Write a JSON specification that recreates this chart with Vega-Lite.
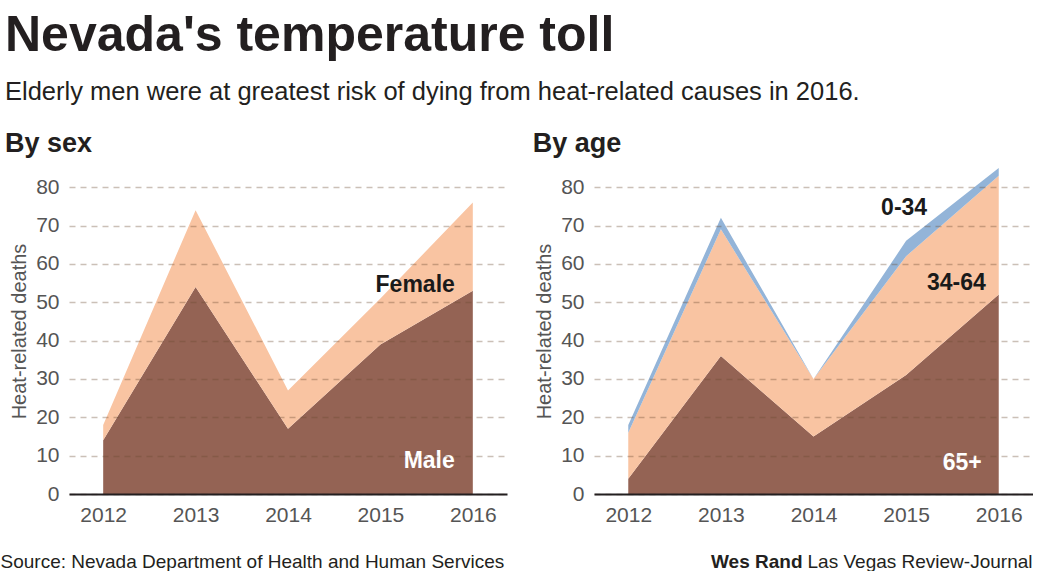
{
  "$schema": "https://vega.github.io/schema/vega-lite/v6.json",
  "background": "white",
  "padding": {"left": 0, "top": 11, "right": 0, "bottom": 0},
  "title": {
    "text": "Nevada's temperature toll",
    "subtitle": "Elderly men were at greatest risk of dying from heat-related causes in 2016.",
    "anchor": "start",
    "frame": "bounds",
    "dx": 5,
    "font": "Liberation Sans",
    "fontSize": 50,
    "fontWeight": "bold",
    "color": "#231f20",
    "subtitleFont": "Liberation Sans",
    "subtitleFontSize": 25.5,
    "subtitleColor": "#231f20",
    "subtitlePadding": 19,
    "offset": 24.5
  },
  "resolve": {"scale": {"color": "independent"}},
  "datasets": {
    "sex": [
      {"year": "2012", "group": "Male", "deaths": 14},
      {"year": "2013", "group": "Male", "deaths": 54},
      {"year": "2014", "group": "Male", "deaths": 17},
      {"year": "2015", "group": "Male", "deaths": 39},
      {"year": "2016", "group": "Male", "deaths": 53},
      {"year": "2012", "group": "Female", "deaths": 4},
      {"year": "2013", "group": "Female", "deaths": 20},
      {"year": "2014", "group": "Female", "deaths": 10},
      {"year": "2015", "group": "Female", "deaths": 12},
      {"year": "2016", "group": "Female", "deaths": 23}
    ],
    "age": [
      {"year": "2012", "group": "65+", "deaths": 4},
      {"year": "2013", "group": "65+", "deaths": 36},
      {"year": "2014", "group": "65+", "deaths": 15},
      {"year": "2015", "group": "65+", "deaths": 31},
      {"year": "2016", "group": "65+", "deaths": 52},
      {"year": "2012", "group": "34-64", "deaths": 12},
      {"year": "2013", "group": "34-64", "deaths": 33},
      {"year": "2014", "group": "34-64", "deaths": 15},
      {"year": "2015", "group": "34-64", "deaths": 31},
      {"year": "2016", "group": "34-64", "deaths": 31},
      {"year": "2012", "group": "0-34", "deaths": 2},
      {"year": "2013", "group": "0-34", "deaths": 3},
      {"year": "2014", "group": "0-34", "deaths": 0},
      {"year": "2015", "group": "0-34", "deaths": 4},
      {"year": "2016", "group": "0-34", "deaths": 2}
    ],
    "sexDark": [{"label": "Female", "year": "2016", "deaths": 54.4}],
    "sexLight": [{"label": "Male", "year": "2016", "deaths": 8.7}],
    "ageTop": [{"label": "0-34", "year": "2015", "deaths": 74.7}],
    "ageMid": [{"label": "34-64", "year": "2016", "deaths": 54.9}],
    "ageLow": [{"label": "65+", "year": "2016", "deaths": 8.2}]
  },
  "spacing": 25,
  "hconcat": [
    {
      "width": 438,
      "height": 326,
      "title": {"text": "By sex", "anchor": "start", "dx": 5, "font": "Liberation Sans", "fontSize": 27, "fontWeight": "bold", "color": "#231f20", "offset": 10},
      "layer": [
        {
          "data": {"name": "sex"},
          "mark": {"type": "area", "opacity": 1},
          "encoding": {
            "x": {
              "field": "year", "type": "ordinal",
              "scale": {"type": "point", "padding": 0.37},
              "axis": {
                "labelAngle": 0, "ticks": false, "labelPadding": 10, "grid": false,
                "domain": true, "domainColor": "#231f20", "domainWidth": 2, "zindex": 1,
                "title": "Source: Nevada Department of Health and Human Services",
                "titleX": -69, "titleY": 58, "titleAlign": "left", "titleBaseline": "top",
                "titleFont": "Liberation Sans", "titleFontSize": 19, "titleFontWeight": "normal", "titleColor": "#231f20"
              }
            },
            "y": {
              "field": "deaths", "type": "quantitative", "stack": "zero",
              "scale": {"domain": [0, 85], "nice": false},
              "axis": {
                "values": [0, 10, 20, 30, 40, 50, 60, 70, 80],
                "title": "Heat-related deaths", "titlePadding": 6,
                "domain": false, "ticks": false, "labelPadding": 10,
                "grid": true, "gridColor": "#6b4a30", "gridOpacity": 0.35, "gridDash": [6, 5], "gridWidth": 1.5,
                "zindex": 1
              }
            },
            "color": {"field": "group", "type": "nominal", "scale": {"domain": ["Male", "Female"], "range": ["#946354", "#f9c4a2"]}, "legend": null},
            "order": {"field": "group", "sort": "descending"}
          }
        },
        {
          "data": {"name": "sexDark"},
          "mark": {"type": "text", "align": "right", "baseline": "middle", "dx": -18, "font": "Liberation Sans", "fontSize": 23, "fontWeight": "bold", "color": "#1a1a1a"},
          "encoding": {
            "x": {"field": "year", "type": "ordinal"},
            "y": {"field": "deaths", "type": "quantitative"},
            "text": {"field": "label"}
          }
        },
        {
          "data": {"name": "sexLight"},
          "mark": {"type": "text", "align": "right", "baseline": "middle", "dx": -18, "font": "Liberation Sans", "fontSize": 23, "fontWeight": "bold", "color": "#ffffff"},
          "encoding": {
            "x": {"field": "year", "type": "ordinal"},
            "y": {"field": "deaths", "type": "quantitative"},
            "text": {"field": "label"}
          }
        }
      ]
    },
    {
      "width": 439,
      "height": 326,
      "title": {"text": "By age", "anchor": "start", "dx": -2, "font": "Liberation Sans", "fontSize": 27, "fontWeight": "bold", "color": "#231f20", "offset": 10},
      "resolve": {"axis": {"y": "independent"}},
      "layer": [
        {
          "data": {"name": "age"},
          "mark": {"type": "area", "opacity": 1},
          "encoding": {
            "x": {
              "field": "year", "type": "ordinal",
              "scale": {"type": "point", "padding": 0.37},
              "axis": {
                "labelAngle": 0, "ticks": false, "labelPadding": 10, "grid": false,
                "domain": true, "domainColor": "#231f20", "domainWidth": 2, "zindex": 1,
                "title": "Las Vegas Review-Journal",
                "titleX": 438, "titleY": 58, "titleAlign": "right", "titleBaseline": "top",
                "titleFont": "Liberation Sans", "titleFontSize": 19, "titleFontWeight": "normal", "titleColor": "#231f20"
              }
            },
            "y": {
              "field": "deaths", "type": "quantitative", "stack": "zero",
              "scale": {"domain": [0, 85], "nice": false},
              "axis": {
                "orient": "left",
                "values": [0, 10, 20, 30, 40, 50, 60, 70, 80],
                "title": "Heat-related deaths", "titlePadding": 6,
                "domain": false, "ticks": false, "labelPadding": 10,
                "grid": true, "gridColor": "#6b4a30", "gridOpacity": 0.35, "gridDash": [6, 5], "gridWidth": 1.5,
                "zindex": 1
              }
            },
            "color": {"field": "group", "type": "nominal", "scale": {"domain": ["65+", "34-64", "0-34"], "range": ["#946354", "#f9c4a2", "#93b4d8"]}, "legend": null},
            "order": {"field": "group", "sort": "descending"}
          }
        },
        {
          "data": {"name": "ageTop"},
          "mark": {"type": "text", "align": "center", "baseline": "middle", "dx": -2, "font": "Liberation Sans", "fontSize": 23, "fontWeight": "bold", "color": "#1a1a1a"},
          "encoding": {
            "x": {"field": "year", "type": "ordinal"},
            "y": {
              "field": "deaths", "type": "quantitative",
              "axis": {
                "orient": "right", "labels": false, "ticks": false, "domain": false, "grid": false,
                "title": "Wes Rand", "titleAngle": 0, "titleAlign": "right", "titleBaseline": "top",
                "titleX": -231, "titleY": 384,
                "titleFont": "Liberation Sans", "titleFontSize": 19, "titleFontWeight": "bold", "titleColor": "#231f20"
              }
            },
            "text": {"field": "label"}
          }
        },
        {
          "data": {"name": "ageMid"},
          "mark": {"type": "text", "align": "right", "baseline": "middle", "dx": -13, "font": "Liberation Sans", "fontSize": 23, "fontWeight": "bold", "color": "#1a1a1a"},
          "encoding": {
            "x": {"field": "year", "type": "ordinal"},
            "y": {"field": "deaths", "type": "quantitative", "axis": null},
            "text": {"field": "label"}
          }
        },
        {
          "data": {"name": "ageLow"},
          "mark": {"type": "text", "align": "right", "baseline": "middle", "dx": -17, "font": "Liberation Sans", "fontSize": 23, "fontWeight": "bold", "color": "#ffffff"},
          "encoding": {
            "x": {"field": "year", "type": "ordinal"},
            "y": {"field": "deaths", "type": "quantitative", "axis": null},
            "text": {"field": "label"}
          }
        }
      ]
    }
  ],
  "config": {
    "view": {"stroke": null},
    "axis": {
      "labelFont": "Liberation Sans", "labelFontSize": 21, "labelColor": "#555555",
      "titleFont": "Liberation Sans", "titleFontSize": 20, "titleColor": "#555555", "titleFontWeight": "normal"
    }
  }
}
